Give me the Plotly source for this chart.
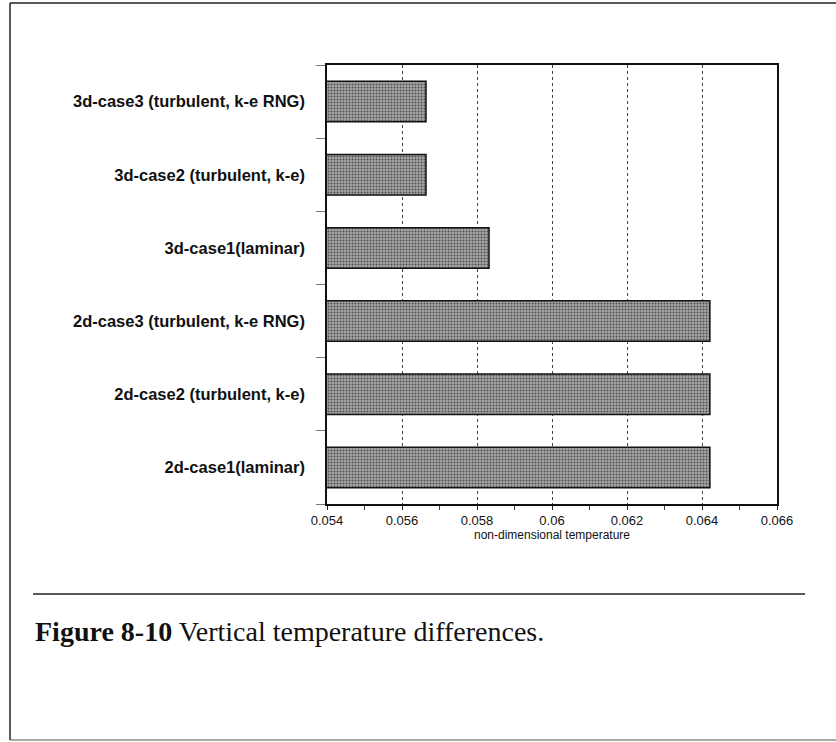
import plotly.graph_objects as go

# Data (top-to-bottom order as shown in the chart)
categories = [
    "3d-case3 (turbulent, k-e RNG)",
    "3d-case2 (turbulent, k-e)",
    "3d-case1(laminar)",
    "2d-case3 (turbulent, k-e RNG)",
    "2d-case2 (turbulent, k-e)",
    "2d-case1(laminar)",
]
values = [0.05664, 0.05664, 0.05832, 0.06421, 0.06421, 0.06421]
x_ticks = [0.054, 0.056, 0.058, 0.060, 0.062, 0.064, 0.066]
x_ticklabels = ["0.054", "0.056", "0.058", "0.06", "0.062", "0.064", "0.066"]

W, H = 836, 742
# plot area in page pixels
PL, PR, PT, PB = 327, 777, 65, 504


def px(xp):
    return (xp - PL) / (PR - PL)


def py(yp):
    return (PB - yp) / (PB - PT)


fig = go.Figure()
fig.add_trace(go.Bar(
    x=values,
    y=categories,
    orientation="h",
    marker=dict(
        color="#9a9a9a",
        line=dict(color="#111111", width=1.5),
        pattern=dict(shape=".", fgcolor="#505050", bgcolor="#a6a6a6",
                     size=3, solidity=0.35, fillmode="replace"),
    ),
    showlegend=False,
    hoverinfo="skip",
))

fig.update_layout(
    width=W, height=H,
    margin=dict(l=PL, r=W - PR, t=PT, b=H - PB, pad=0),
    paper_bgcolor="white",
    plot_bgcolor="white",
    bargap=0.447,
    font=dict(family="Liberation Sans, Arial, sans-serif", color="#111111"),
)

fig.update_xaxes(
    range=[0.054, 0.066],
    tickvals=x_ticks,
    ticktext=x_ticklabels,
    tickfont=dict(size=13, family="Liberation Sans, Arial, sans-serif"),
    ticks="outside", ticklen=4, tickcolor="#222", tickwidth=1,
    minor=dict(dtick=0.001, tick0=0.054, ticks="outside", ticklen=4,
               tickcolor="#444", showgrid=False),
    showgrid=True, gridcolor="#444444", griddash="dot", gridwidth=1,
    showline=True, linecolor="#111111", linewidth=1.5, mirror=True,
    zeroline=False,
    title=dict(text="non-dimensional temperature",
               font=dict(size=12, family="Liberation Sans, Arial, sans-serif"),
               standoff=0),
)

fig.update_yaxes(
    categoryorder="array",
    categoryarray=categories[::-1],
    tickson="boundaries",
    ticks="outside", ticklen=9, tickcolor="#777777", tickwidth=1,
    ticklabelstandoff=17,
    tickfont=dict(size=16.5, family="Liberation Sans, Arial, sans-serif",
                  weight="bold"),
    showgrid=False,
    showline=True, linecolor="#111111", linewidth=1.5, mirror=True,
    zeroline=False,
)

# Page frame lines and caption separator (page pixel positions)
shapes = [
    dict(type="line", xref="paper", yref="paper",
         x0=px(10), x1=px(836), y0=py(3), y1=py(3),
         line=dict(color="#222", width=1.5)),
    dict(type="line", xref="paper", yref="paper",
         x0=px(10), x1=px(10), y0=py(3), y1=py(740),
         line=dict(color="#222", width=1.5)),
    dict(type="line", xref="paper", yref="paper",
         x0=px(10), x1=px(836), y0=py(740), y1=py(740),
         line=dict(color="#555", width=1)),
    dict(type="line", xref="paper", yref="paper",
         x0=px(33), x1=px(805), y0=py(594), y1=py(594),
         line=dict(color="#222", width=1.5)),
]
fig.update_layout(shapes=shapes)

fig.add_annotation(
    xref="paper", yref="paper",
    x=px(33), y=py(631),
    xanchor="left", yanchor="middle",
    showarrow=False,
    text="<b>Figure 8-10</b> Vertical temperature differences.",
    font=dict(family="Liberation Serif, Times New Roman, serif", size=28,
              color="#111111"),
)

fig.write_html(
    "out.html",
    config={"displayModeBar": False},
    post_script="document.body.style.margin='0';document.body.style.overflow='hidden';",
)
